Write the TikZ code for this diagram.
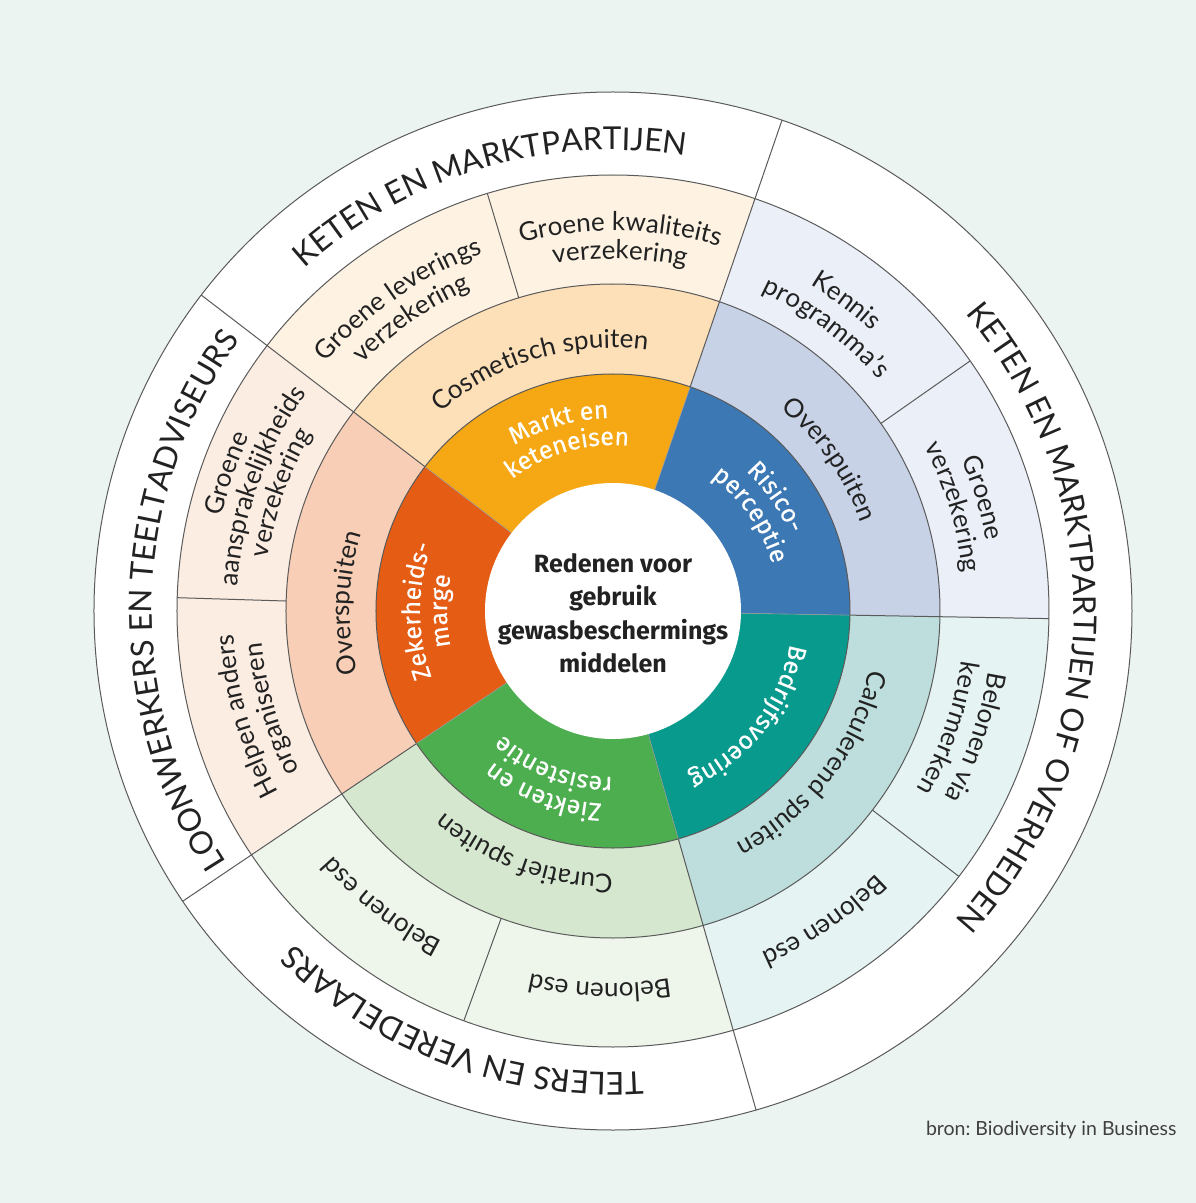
\documentclass[tikz,border=0pt]{standalone}
\usepackage{fontspec}
\setmainfont{Lato}
\newfontfamily\fira{Fira Sans}
\newfontfamily\firam{Fira Sans}[FakeBold=0.35]
\usetikzlibrary{decorations.text}
\frenchspacing

\definecolor{bgc}{RGB}{236,244,241}
\definecolor{linec}{RGB}{90,90,90}
\definecolor{txt}{RGB}{34,34,34}
\definecolor{mkt}{HTML}{F5A813}
\definecolor{ris}{HTML}{3B78B4}
\definecolor{bed}{HTML}{089A8D}
\definecolor{zie}{HTML}{4DAE4F}
\definecolor{zek}{HTML}{E55D14}
\definecolor{cosm}{HTML}{FDE0B8}
\definecolor{ovb}{HTML}{C8D2E7}
\definecolor{calc}{HTML}{BDDEDC}
\definecolor{cura}{HTML}{D5E8CF}
\definecolor{ovs}{HTML}{F8CFB6}
\definecolor{mktL}{HTML}{FEF3E3}
\definecolor{risL}{HTML}{EBEFF8}
\definecolor{bedL}{HTML}{E6F3F3}
\definecolor{zieL}{HTML}{EEF5EB}
\definecolor{zekL}{HTML}{FCEDE3}

% sector: r1 r2 a1 a2 colour
\newcommand\wsector[5]{%
  \fill[#5] (#3:#1pt) arc[start angle=#3, end angle=#4, radius=#1pt]
    -- (#4:#2pt) arc[start angle=#4, end angle=#3, radius=#2pt] -- cycle;}
% curved label: centre angle, baseline radius, half span, format, colour, text
\newcommand\arclab[6]{%
  \path[decorate, decoration={text along path, text align=center, text color=#5,
    text={|#4|#6}}]
    ({#1+#3}:#2pt) arc[start angle={#1+#3}, end angle={#1-#3}, radius=#2pt];}

\newcommand\fband{\fontsize{31.5}{31.5}\selectfont}
\newcommand\fring{\fontsize{26}{26}\selectfont}
\newcommand\finner{\firam\fontsize{25}{25}\selectfont}

\tikzset{lin/.style={draw=linec, line width=1pt}}

\begin{document}
\begin{tikzpicture}[x=1pt,y=1pt]
\fill[bgc] (-613,-592) rectangle (583,611);
\useasboundingbox (-613,-592) rectangle (583,611);

% white outer band
\fill[white] (0,0) circle[radius=519pt];

% outer coloured ring
\wsector{327}{436}{-1}{71}{risL}
\wsector{327}{436}{71}{142.5}{mktL}
\wsector{327}{436}{142.5}{214}{zekL}
\wsector{327}{436}{214}{286}{zieL}
\wsector{327}{436}{286}{359}{bedL}

% middle ring
\wsector{237}{327}{-1}{71}{ovb}
\wsector{237}{327}{71}{142.5}{cosm}
\wsector{237}{327}{142.5}{214}{ovs}
\wsector{237}{327}{214}{286}{cura}
\wsector{237}{327}{286}{359}{calc}

% inner ring
\wsector{120}{237}{-1}{71}{ris}
\wsector{120}{237}{71}{142.5}{mkt}
\wsector{120}{237}{142.5}{214}{zek}
\wsector{120}{237}{214}{286}{zie}
\wsector{120}{237}{286}{359}{bed}

% lines
\draw[lin] (0,0) circle[radius=519pt];
\draw[lin] (0,0) circle[radius=436pt];
\draw[lin] (0,0) circle[radius=327pt];
\draw[lin] (0,0) circle[radius=237pt];
\foreach \a in {-1,71,142.5,214,286} \draw[lin] (\a:237pt) -- (\a:436pt);
\foreach \a in {-1,71,142.5,214,286} \draw[draw=black!40, line width=0.6pt] (\a:128pt) -- (\a:237pt);
\foreach \a in {35,106.75,178.25,250,322.5} \draw[lin] (\a:327pt) -- (\a:436pt);
\foreach \a in {71,142.5,214,286} \draw[lin] (\a:436pt) -- (\a:519pt);

% centre
\fill[white] (0,0) circle[radius=128pt];
\node[align=center, text=txt, font=\fira\bfseries\fontsize{25}{33.5}\selectfont] (centre) at (0,-2)
  {Redenen voor\\gebruik\\gewasbeschermings\\middelen};

% white band labels
\arclab{106.5}{461}{85}{\fband}{txt}{KETEN EN MARKTPARTIJEN}
\arclab{359}{461}{85}{\fband}{txt}{KETEN EN MARKTPARTIJEN OF OVERHEDEN}
\arclab{250}{461}{85}{\fband}{txt}{TELERS EN VEREDELAARS}
\arclab{178.5}{461}{85}{\fband}{txt}{LOONWERKERS EN TEELTADVISEURS}

% outer coloured ring labels
\arclab{124.6}{380}{60}{\fring}{txt}{Groene leverings}
\arclab{124.6}{352}{60}{\fring}{txt}{verzekering}
\arclab{88.9}{380}{60}{\fring}{txt}{Groene kwaliteits}
\arclab{88.9}{352}{60}{\fring}{txt}{verzekering}
\arclab{53}{381}{60}{\fring}{txt}{Kennis}
\arclab{53}{352}{60}{\fring}{txt}{programma’s}
\arclab{17}{380}{60}{\fring}{txt}{Groene}
\arclab{17}{352}{60}{\fring}{txt}{verzekering}
\arclab{340.75}{380}{60}{\fring}{txt}{Belonen via}
\arclab{340.75}{352}{60}{\fring}{txt}{keurmerken}
\arclab{304.25}{372}{60}{\fring}{txt}{Belonen esd}
\arclab{268}{372}{60}{\fring}{txt}{Belonen esd}
\arclab{232}{372}{60}{\fring}{txt}{Belonen esd}
\arclab{196}{380}{60}{\fring}{txt}{Helpen anders}
\arclab{196}{352}{60}{\fring}{txt}{organiseren}
\arclab{160.4}{403}{60}{\fring}{txt}{Groene}
\arclab{160.4}{376}{60}{\fring}{txt}{aansprakelijkheids}
\arclab{160.4}{349}{60}{\fring}{txt}{verzekering}

% middle ring labels
\arclab{106.75}{263}{70}{\fring}{txt}{Cosmetisch spuiten}
\arclab{35}{263}{70}{\fring}{txt}{Overspuiten}
\arclab{322.5}{263}{70}{\fring}{txt}{Calculerend spuiten}
\arclab{250}{263}{70}{\fring}{txt}{Curatief spuiten}
\arclab{178.25}{263}{70}{\fring}{txt}{Overspuiten}

% inner ring labels
\arclab{106}{193}{80}{\finner}{white}{Markt en}
\arclab{106}{166}{80}{\finner}{white}{keteneisen}
\arclab{35}{193}{80}{\finner}{white}{Risico-}
\arclab{35}{166}{80}{\finner}{white}{perceptie}
\arclab{322}{180}{80}{\finner}{white}{Bedrijfsvoering}
\arclab{249}{193}{80}{\finner}{white}{Ziekten en}
\arclab{249}{166}{80}{\finner}{white}{resistentie}
\arclab{180}{193}{80}{\finner}{white}{Zekerheids-}
\arclab{180}{166}{80}{\finner}{white}{marge}

% source
\node[anchor=base east, text=black!75, font=\fontsize{19.5}{19.5}\selectfont] (bron) at (567,-524)
  {bron: Biodiversity in Business};
\end{tikzpicture}
\end{document}
